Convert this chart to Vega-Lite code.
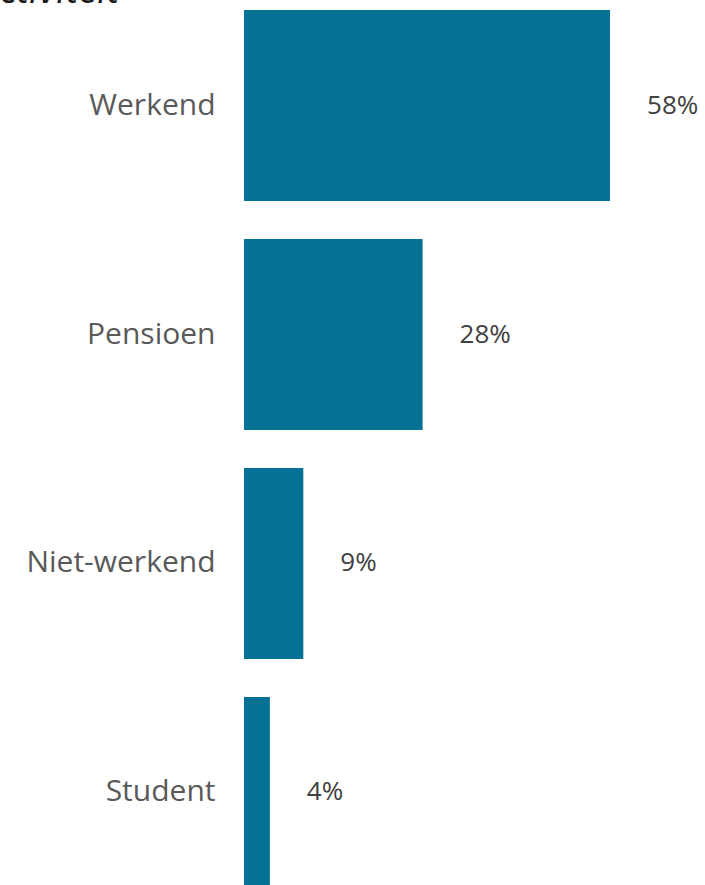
{
  "$schema": "https://vega.github.io/schema/vega-lite/v6.json",
  "autosize": "none",
  "padding": {"left": 244, "top": 0, "right": 0, "bottom": 0},
  "width": 461,
  "height": 898,
  "background": "white",
  "title": {
    "text": "Activiteit",
    "orient": "top",
    "anchor": "start",
    "frame": "group",
    "font": "Open Sans",
    "fontStyle": "italic",
    "fontWeight": "normal",
    "fontSize": 38,
    "color": "#1a1a1a",
    "baseline": "alphabetic",
    "offset": -41,
    "dx": -266
  },
  "data": {
    "values": [
      {"activiteit": "Werkend", "pct": 0.58},
      {"activiteit": "Pensioen", "pct": 0.283},
      {"activiteit": "Niet-werkend", "pct": 0.094},
      {"activiteit": "Student", "pct": 0.041}
    ]
  },
  "encoding": {
    "y": {
      "field": "activiteit",
      "type": "nominal",
      "sort": null,
      "scale": {"paddingInner": 0.166, "paddingOuter": 0.0437},
      "axis": {
        "title": null,
        "domain": false,
        "ticks": false,
        "labelFont": "Open Sans",
        "labelFontSize": 30,
        "labelColor": "#595959",
        "labelPadding": 29,
        "labelAlign": "right",
        "labelBaseline": "middle",
        "labelLimit": 300
      }
    },
    "x": {
      "field": "pct",
      "type": "quantitative",
      "scale": {"domain": [0, 0.7305], "nice": false},
      "axis": null
    }
  },
  "layer": [
    {"mark": {"type": "bar", "color": "#057194", "cornerRadius": 0}},
    {
      "mark": {
        "type": "text",
        "align": "left",
        "baseline": "middle",
        "dx": 37,
        "font": "Open Sans",
        "fontSize": 26,
        "color": "#404040"
      },
      "encoding": {
        "text": {"field": "pct", "type": "quantitative", "format": ".0%"}
      }
    }
  ],
  "config": {"view": {"stroke": null}}
}
